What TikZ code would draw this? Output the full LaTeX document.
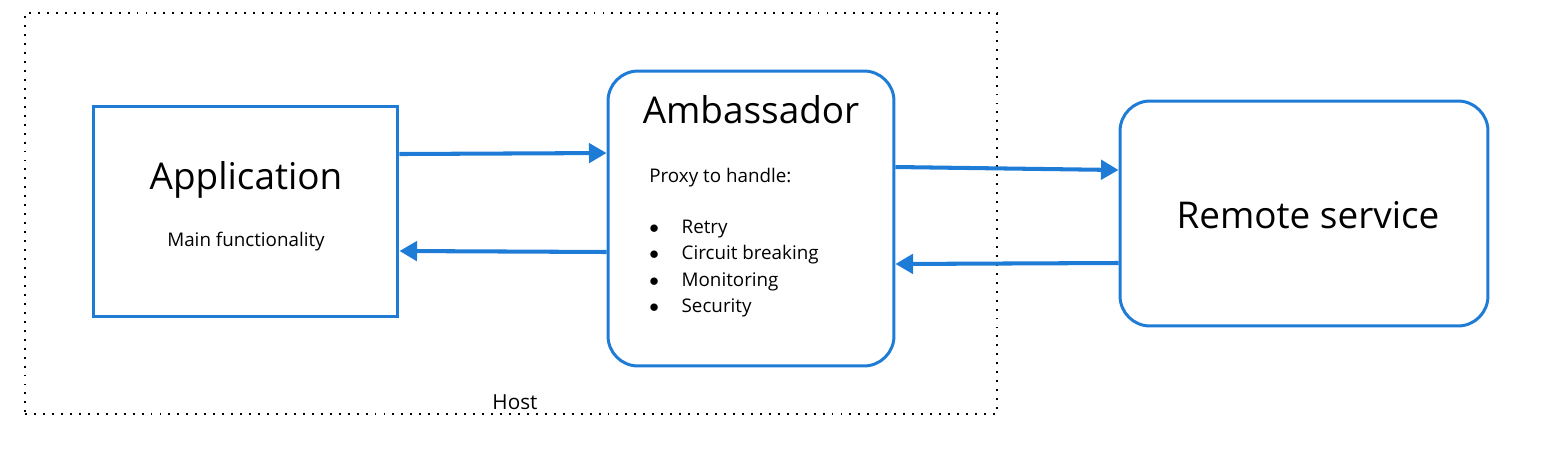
\documentclass[tikz,border=0pt]{standalone}
\usepackage{fontspec}
\setmainfont{Open Sans}
\usepackage{xcolor}
\usetikzlibrary{arrows.meta,positioning}
\definecolor{msblue}{HTML}{1E7CD6}

\begin{document}
\begin{tikzpicture}[
    x=0.02cm, y=-0.02cm,
    box/.style={rectangle, draw=msblue, line width=1.7pt, fill=white,
                inner sep=0pt},
    rbox/.style={box, rounded corners=0.6cm},
    title/.style={inner sep=0pt, anchor=base, font=\fontsize{21}{25}\selectfont},
    note/.style={inner sep=0pt, font=\fontsize{10.7}{15.1}\selectfont},
    arrow/.style={-{Triangle[length=10pt,width=11pt]}, draw=msblue, line width=2.3pt}
  ]
    \useasboundingbox (0,0) rectangle (1554,468);
    \node[draw, dash pattern=on 1.1pt off 4pt, line width=1.1pt,
          minimum width=19.44cm, minimum height=8.02cm] (host) at (511,213.5) {};
    \node[note, anchor=base, font=\fontsize{11.8}{14}\selectfont] (hostlbl) at (515,409) {Host};

    \node[box, minimum width=6.1cm, minimum height=4.22cm]   (app) at (245.5,211.5) {};
    \node[rbox, minimum width=5.72cm, minimum height=5.9cm]  (amb) at (751,218.5) {};
    \node[rbox, minimum width=7.36cm, minimum height=4.5cm]  (rem) at (1304,213.5) {};

    \node[title] (apptitle) at (246,189) {Application};
    \node[note, anchor=base] (appnote) at (246,246) {Main functionality};
    \node[title] (ambtitle) at (751,123) {Ambassador};
    \node[note, anchor=base west] (ambnote) at (649,182) {Proxy to handle:};
    \node[note, anchor=base west] (ambitems) at (649,233)
      {\begin{tabular}[t]{@{}l@{\hspace{12.9pt}}l@{}}
         $\bullet$ & Retry\\
         $\bullet$ & Circuit breaking\\
         $\bullet$ & Monitoring\\
         $\bullet$ & Security
       \end{tabular}};
    \node[title] (remtitle) at (1308,228) {Remote service};

    \draw[arrow] ([yshift=1.15cm]app.east) -- ([yshift=1.31cm]amb.west);
    \draw[arrow] ([yshift=-0.67cm]amb.west) -- ([yshift=-0.79cm]app.east);
    \draw[arrow] ([yshift=1.03cm]amb.east) -- ([yshift=0.87cm]rem.west);
    \draw[arrow] ([yshift=-0.99cm]rem.west) -- ([yshift=-0.91cm]amb.east);
  \end{tikzpicture}
\end{document}
